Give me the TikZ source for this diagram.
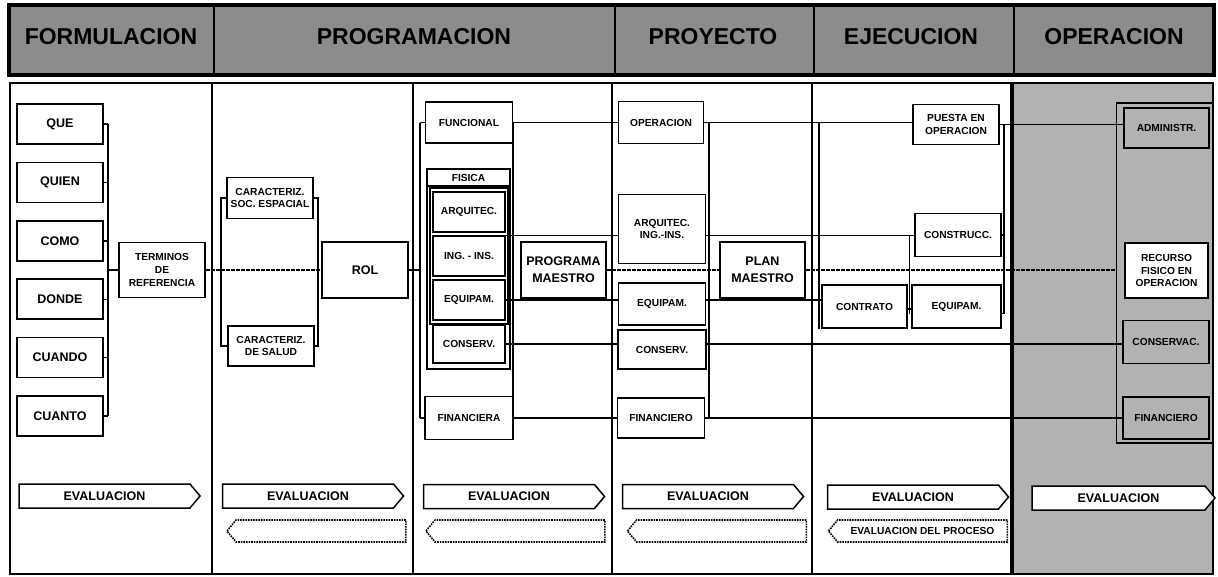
\documentclass[tikz,border=0pt]{standalone}
\usepackage{fontspec}
\setmainfont{Liberation Sans}
\usetikzlibrary{shapes.symbols, positioning, arrows.meta}

\begin{document}
\begin{tikzpicture}[x=1pt, y=-1pt,
    stage/.style={draw, line width=1.6pt, fill=white, align=center, inner sep=1pt,
        font=\fontsize{10.2}{12.8}\selectfont\bfseries},
    bigstage/.style={stage, font=\fontsize{12.5}{17}\selectfont\bfseries},
    shaded/.style={fill=black!30},
    link/.style={line width=1.4pt},
    mainlink/.style={line width=1.4pt, dash pattern=on 4pt off 1pt},
    evalarrow/.style={signal, signal to=east, signal pointer angle=100, draw, line width=1.5pt,
        fill=white, minimum width=181pt, minimum height=24pt, inner sep=0pt,
        font=\fontsize{12.5}{15}\selectfont\bfseries},
    procarrow/.style={signal, signal to=west, signal pointer angle=100, draw, densely dotted,
        line width=1.6pt, minimum width=179pt, minimum height=22pt, inner sep=0pt,
        font=\fontsize{10.2}{12}\selectfont\bfseries},
    headfont/.style={font=\fontsize{23}{23}\selectfont\bfseries}
]
\useasboundingbox (0,0) rectangle (1218,576);

% Column limits
\def\bodytop{83}
\def\bodybot{574}
\def\colsix{1012}

% Header band
\fill[black!45] (9,5) rectangle (1214,75);
\draw[line width=4pt] (9,5) rectangle (1214,75);
\foreach \x in {214, 615, 814, 1014}
    \draw[line width=2.6pt] (\x,5) -- (\x,75);
\foreach \name/\x/\txt in {hform/111/FORMULACION, hprog/414/PROGRAMACION, hproy/713/PROYECTO,
                           hejec/911/EJECUCION, hoper/1114/OPERACION}
    \node[headfont] (\name) at (\x,37) {\txt};

% Body columns
\fill[black!30] (\colsix,\bodytop) rectangle (1213,\bodybot);
\draw[line width=1.6pt] (10,\bodytop) rectangle (1213,\bodybot);
\foreach \x in {212, 413, 612, 812}
    \draw[line width=1.8pt] (\x,\bodytop) -- (\x,\bodybot);
\draw[line width=3.5pt] (\colsix,\bodytop) -- (\colsix,\bodybot);

% Formulacion
\foreach \i/\name/\txt in {0/que/QUE, 1/quien/QUIEN, 2/como/COMO, 3/donde/DONDE, 4/cuando/CUANDO, 5/cuanto/CUANTO} {
    \pgfmathsetmacro{\y}{124+58.4*\i}
    \node[bigstage, minimum width=86pt, minimum height=40pt] (\name) at (60,\y) {\txt};
}
\node[stage, minimum width=86pt, minimum height=55pt] (terminos) at (162,270) {TERMINOS\\DE\\REFERENCIA};
\coordinate (busA) at (108,0);
\foreach \name in {que, quien, como, donde, cuando, cuanto}
    \draw[link] (\name.east) -- (\name.east -| busA);
\draw[link] (que.east -| busA) -- (cuanto.east -| busA);
\draw[link] (busA |- terminos.west) -- (terminos.west);

% Programacion (1)
\node[stage, minimum width=86pt, minimum height=41pt] (socesp) at (270,198) {CARACTERIZ.\\SOC. ESPACIAL};
\node[stage, minimum width=86pt, minimum height=40pt] (salud) at (271,346) {CARACTERIZ.\\DE SALUD};
\node[bigstage, minimum width=86pt, minimum height=56pt] (rol) at (365,270) {ROL};
\coordinate (busB) at (221,0);
\coordinate (busC) at (318,0);
\draw[mainlink] (terminos.east) -- (rol.west);
\draw[link] (socesp.west) -- (socesp.west -| busB) -- (salud.west -| busB) -- (salud.west);
\draw[link] (socesp.east) -- (socesp.east -| busC) -- (salud.east -| busC) -- (salud.east);

% Programacion (2)
\node[stage, minimum width=87pt, minimum height=41pt] (funcional) at (469,122.5) {FUNCIONAL};
\node[draw, line width=1.4pt, fill=white, minimum width=83pt, minimum height=200pt] (fisica) at (468.5,269) {};
\draw[line width=1.2pt] (427,186) -- (510,186);
\node[stage, draw=none, fill=none] (fisicalbl) at (468.5,177.5) {FISICA};
\draw[line width=2.8pt] (430,188) rectangle (508,324);
\foreach \i/\name/\txt in {0/arqA/ARQUITEC., 1/inginsA/ING. - INS., 2/equipA/EQUIPAM.} {
    \pgfmathsetmacro{\y}{212+44*\i}
    \node[stage, minimum width=72pt, minimum height=40pt] (\name) at (469,\y) {\txt};
}
\node[stage, minimum width=72pt, minimum height=38pt] (conservA) at (469,344) {CONSERV.};
\node[stage, minimum width=88pt, minimum height=43pt] (financiera) at (469,418) {FINANCIERA};
\node[bigstage, minimum width=85pt, minimum height=56pt] (programa) at (563.5,270) {PROGRAMA\\MAESTRO};
\coordinate (busD) at (420,0);
\coordinate (busE) at (513,0);
\draw[link] (rol.east) -- (rol.east -| busD);
\draw[link] (busD |- funcional.west) -- (busD |- financiera.west);
\draw[link] (busD |- funcional.west) -- (funcional.west);
\draw[link] (busD |- financiera.west) -- (financiera.west);
\draw[link] (busE |- funcional.east) -- (busE |- financiera.east);

% Proyecto
\node[stage, minimum width=85pt, minimum height=42pt] (operacion) at (661,122.5) {OPERACION};
\node[stage, minimum width=87pt, minimum height=69pt] (arqB) at (662,229) {ARQUITEC.\\ING.-INS.};
\node[stage, minimum width=87pt, minimum height=42pt] (equipB) at (662,304) {EQUIPAM.};
\node[stage, minimum width=88pt, minimum height=39pt] (conservB) at (662,349.5) {CONSERV.};
\node[stage, minimum width=87pt, minimum height=40pt] (financieroB) at (661,418) {FINANCIERO};
\node[bigstage, minimum width=85pt, minimum height=56pt] (plan) at (762.5,270) {PLAN\\MAESTRO};
\coordinate (busF) at (709,0);
\draw[link] (funcional.east) -- (operacion.west);
\draw[link] (inginsA.north east) -- (arqB.west |- inginsA.north east);
\draw[link] (equipA.east) -- (equipB.west |- equipA.east);
\draw[link] (conservA.east) -- (conservB.west |- conservA.east);
\draw[link] (financiera.east) -- (financieroB.west);
\draw[mainlink] (programa.east) -- (plan.west);
\draw[link] (busF |- operacion.east) -- (busF |- financieroB.east);

% Ejecucion
\node[stage, minimum width=86pt, minimum height=40pt] (puesta) at (956,124.5) {PUESTA EN\\OPERACION};
\node[stage, minimum width=86pt, minimum height=43pt] (construcc) at (958,235) {CONSTRUCC.};
\node[stage, minimum width=85pt, minimum height=43pt] (contrato) at (864.5,306.5) {CONTRATO};
\node[stage, minimum width=89pt, minimum height=43pt] (equipC) at (956.5,306.5) {EQUIPAM.};
\coordinate (busJ) at (819,0);
\coordinate (busG) at (909.5,0);
\coordinate (busH) at (1004,0);
\coordinate (equipCtick) at ([yshift=-7pt]equipC.east);
\coordinate (contratotick) at ([yshift=-2.5pt]contrato.east);
\draw[link] (operacion.east) -- (puesta.west |- operacion.east);
\draw[link] (arqB.east |- inginsA.north east) -- (construcc.west |- inginsA.north east);
\draw[link] (equipB.east |- equipA.east) -- (contrato.west |- equipA.east);
\draw[link] (busJ |- operacion.east) -- (busJ |- contrato.south);
\draw[link] (busG |- inginsA.north east) -- (busG |- equipCtick);
\draw[link] (contratotick) -- (equipC.west |- contratotick);
\draw[link] (puesta.east) -- (puesta.east -| busH) -- (busH |- equipCtick) -- (equipCtick);
\draw[link] (construcc.east) -- (construcc.east -| busH);

% Operacion
\node[draw, line width=1.4pt, minimum width=97pt, minimum height=340pt] (grupoop) at (1165,273) {};
\node[stage, shaded, minimum width=85pt, minimum height=40pt] (admin) at (1166.5,128) {ADMINISTR.};
\node[stage, minimum width=83pt, minimum height=55pt] (recurso) at (1166.5,270.5) {RECURSO\\FISICO EN\\OPERACION};
\node[stage, shaded, minimum width=86pt, minimum height=43pt] (conservC) at (1166,342) {CONSERVAC.};
\node[stage, shaded, minimum width=86pt, minimum height=42pt] (financieroC) at (1166,418) {FINANCIERO};
\draw[link] (puesta.east) -- (admin.west |- puesta.east);
\draw[mainlink] (plan.east) -- (grupoop.west |- plan.east);
\draw[link] (conservB.east |- conservA.east) -- (conservC.west |- conservA.east);
\draw[link] (financieroB.east) -- (financieroC.west);

% Evaluacion
\foreach \name/\x/\y in {evalA/104.5/496, evalB/308/496, evalC/509/496.5, evalD/708/496.5, evalE/913/497}
    \node[evalarrow] (\name) at (\x,\y) {EVALUACION};
\node[evalarrow, minimum width=183pt] (evalF) at (1118.5,498) {EVALUACION};
\foreach \name/\x in {procB/321, procC/520, procD/721.5}
    \node[procarrow] (\name) at (\x,531) {};
\node[procarrow] (procE) at (922.5,531) {EVALUACION DEL PROCESO};

\end{tikzpicture}
\end{document}
